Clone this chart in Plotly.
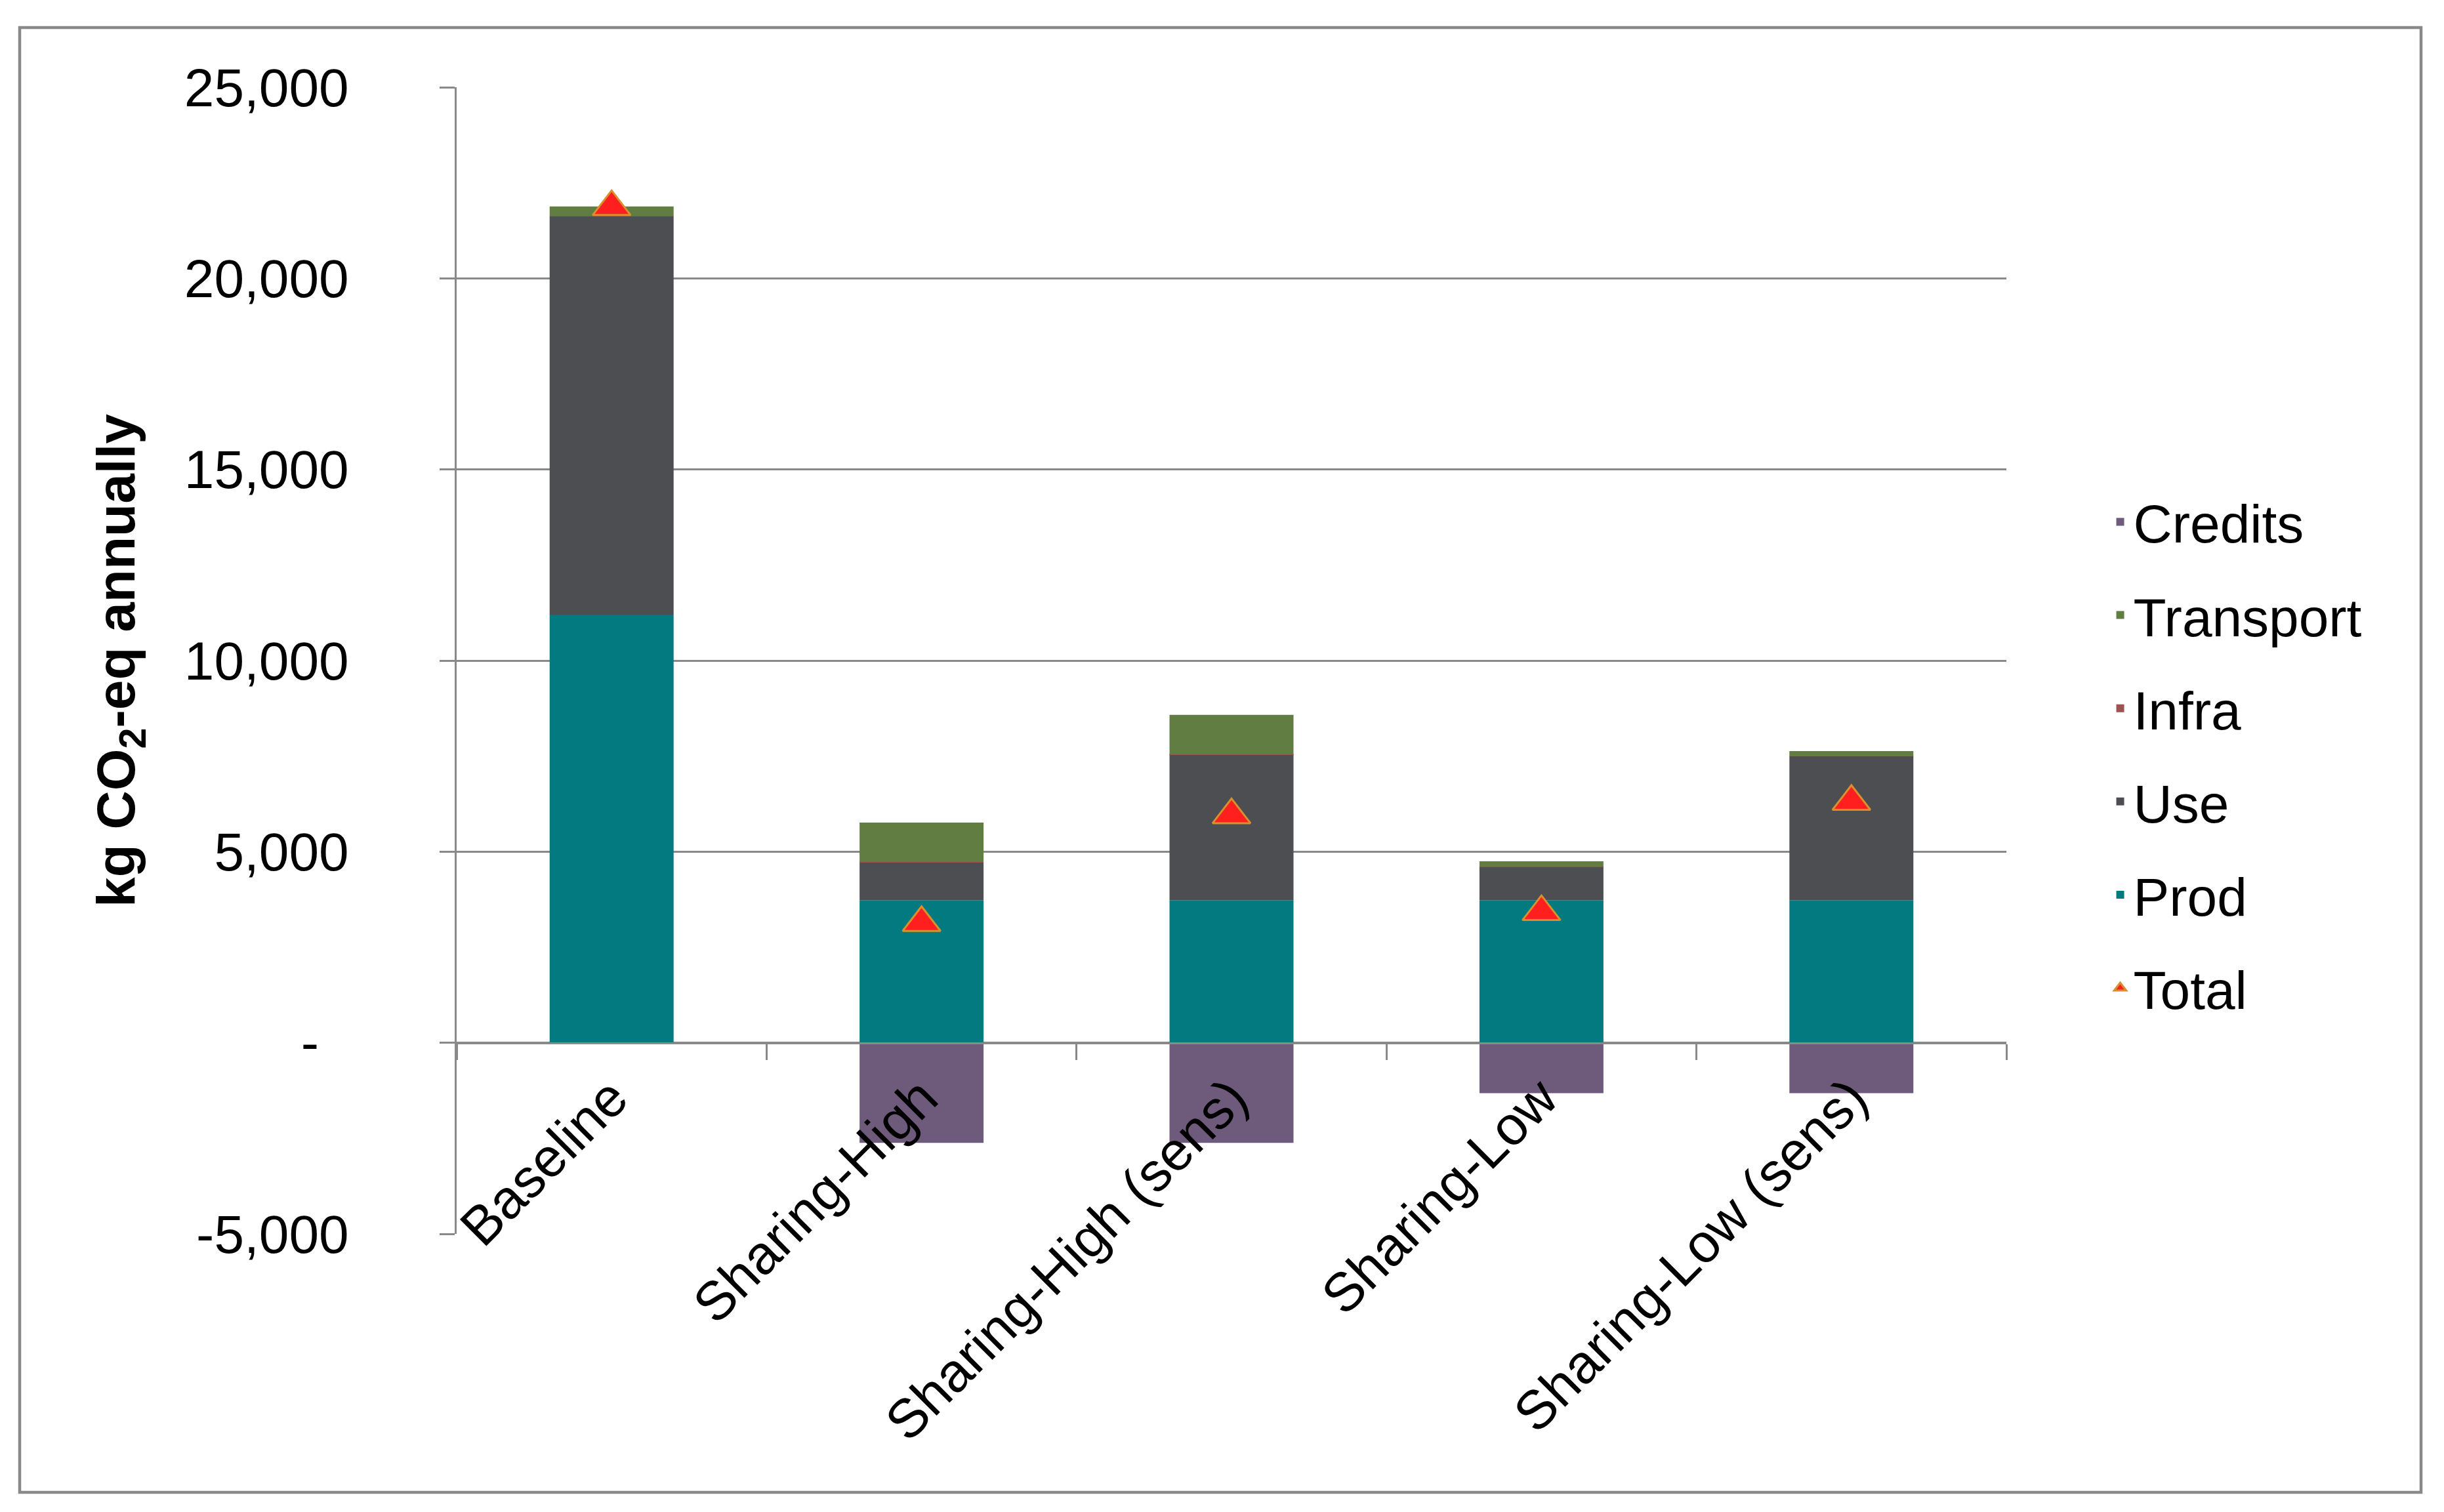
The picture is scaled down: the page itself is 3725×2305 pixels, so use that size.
import plotly.graph_objects as go

# scenarios and emission components (kg CO2-eq per year)
categories = ["Baseline", "Sharing-High", "Sharing-High (sens)", "Sharing-Low", "Sharing-Low (sens)"]
prod = [11200, 3730, 3730, 3730, 3730]
use = [10420, 1000, 3815, 880, 3765]
infra = [10, 5, 5, 5, 5]
transport = [250, 1028, 1030, 132, 131]
credits = [0, -2618, -2618, -1320, -1320]
total = [21870, 3140, 5960, 3425, 6310]

ytick_vals = [-5000, 0, 5000, 10000, 15000, 20000, 25000]
ytick_text = ["-5,000", "-\u00a0\u00a0", "5,000", "10,000", "15,000", "20,000", "25,000"]

GREY = "#898989"
FONT = "Liberation Sans, Arial, sans-serif"

fig = go.Figure()

# stacking order bottom -> top, legend order set with legendrank
bars = [
    ("Prod", prod, "#027A80", 5),
    ("Use", use, "#4D4E52", 4),
    ("Infra", infra, "#9E524E", 3),
    ("Transport", transport, "#627D42", 2),
    ("Credits", credits, "#6E5A7B", 1),
]
for name, vals, col, rank in bars:
    fig.add_trace(go.Bar(
        x=categories, y=vals, name=name,
        marker=dict(color=col, line=dict(width=0)),
        legendrank=rank, legendgroup=name,
    ))

fig.add_trace(go.Scatter(
    x=categories, y=total, name="Total", mode="markers",
    marker=dict(symbol="triangle-up", size=50, color="#FF1F1F",
                line=dict(color="#D8902E", width=3)),
    legendrank=6, legendgroup="Total",
))

# page body adds an 8px offset, so the figure is a bit smaller than the window
OFF = 8
W, H = 3725 - 2 * OFF, 2305 - 2 * OFF
L, T = 696 - OFF, 133 - OFF
R = W - (3058 - OFF)
B = H - (1881 - OFF)
pw, ph = W - L - R, H - T - B


def px(x):
    return (x - OFF - L) / pw


def py(y):
    return (H - B - (y - OFF)) / ph


fig.update_layout(
    width=W, height=H,
    margin=dict(l=L, r=R, t=T, b=B),
    barmode="relative",
    bargap=0.6,
    paper_bgcolor="white",
    plot_bgcolor="white",
    font=dict(family=FONT, size=82, color="black"),
    showlegend=True,
    legend=dict(
        x=1.065, y=0.4175, xanchor="left", yanchor="middle",
        traceorder="grouped", tracegroupgap=32.5,
        font=dict(family=FONT, size=82, color="black"),
        bgcolor="rgba(0,0,0,0)",
    ),
    shapes=[dict(
        type="rect", xref="paper", yref="paper",
        x0=px(30), x1=px(3690), y0=py(2275), y1=py(42),
        line=dict(color=GREY, width=4.5), layer="below",
    )],
)

fig.update_xaxes(
    type="category",
    anchor="free", position=1 / 6,
    showline=True, linecolor=GREY, linewidth=3,
    ticks="outside", tickson="boundaries", ticklen=24, tickwidth=3, tickcolor=GREY,
    tickangle=-45,
    showgrid=False, zeroline=False,
    tickfont=dict(family=FONT, size=83, color="black"),
)

fig.update_yaxes(
    range=[-5000, 25000],
    tickvals=ytick_vals, ticktext=ytick_text,
    showline=True, linecolor=GREY, linewidth=3,
    ticks="outside", ticklen=23, tickwidth=3, tickcolor=GREY,
    ticklabelstandoff=122,
    showgrid=True, gridcolor=GREY, gridwidth=3,
    zeroline=False,
    tickfont=dict(family=FONT, size=82, color="black"),
    title=dict(text="<b>kg CO<sub>2</sub>-eq annually</b>", standoff=49,
               font=dict(family=FONT, size=82, color="black")),
)

fig.write_html("out.html")
